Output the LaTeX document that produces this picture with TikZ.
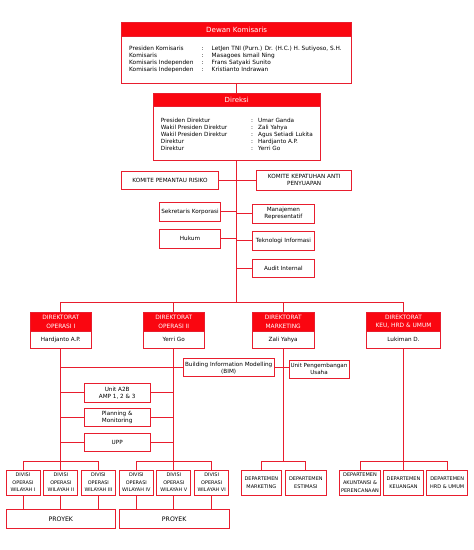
\documentclass[tikz,border=0pt]{standalone}
\usepackage{fontspec}
\setmainfont{DejaVu Sans}
\definecolor{rd}{RGB}{232,30,46}
\definecolor{hd}{RGB}{250,6,16}
\newcommand{\fsz}[2]{\fontsize{#1}{#2}\selectfont}
\begin{document}
\begin{tikzpicture}[x=1pt,y=-1pt,
  box/.style={draw=rd, line width=1pt, fill=white, inner sep=0pt, align=center, text=black, font=\fsz{5.7}{7}},
  hdr/.style={draw=rd, line width=1pt, fill=hd, inner sep=0pt, align=center, text=white},
  txt/.style={inner sep=0pt, anchor=north west, align=left, text=black},
  ln/.style={draw=rd, line width=0.9pt},
  divbox/.style={box, minimum width=34pt, minimum height=25pt, font=\fsz{4.9}{7.5}},
  depbox/.style={box, minimum height=25.7pt, font=\fsz{5}{7.7}},
  dirbox/.style={box, minimum height=36pt},
  dirhdr/.style={hdr, minimum height=19pt, font=\fsz{5.9}{8.8}},
  proyekbox/.style={box, minimum width=109.7pt, minimum height=19pt, font=\fsz{6.2}{7}}]
\useasboundingbox (0,0) rectangle (474,550);
\fill[white] (0,0) rectangle (474,550);

% Dewan Komisaris
\node[box, minimum width=230pt, minimum height=61pt] (dk) at (236.7,52.5) {};
\node[hdr, minimum width=230pt, minimum height=14.5pt, font=\fsz{7.1}{8}] (dkh) at (236.7,29.5) {Dewan Komisaris};
\node[txt, font=\fsz{5.8}{7.2}] (dkt) at (129,44.8) {\begin{tabular}{@{}p{72.5pt}@{}p{10pt}@{}l@{}}
Presiden Komisaris & : & LetJen TNI (Purn.) Dr. (H.C.) H. Sutiyoso, S.H.\\
Komisaris & : & Masagoes Ismail Ning\\
Komisaris Independen & : & Frans Satyaki Sunito\\
Komisaris Independen & : & Kristianto Indrawan
\end{tabular}};

% Direksi
\node[box, minimum width=166.7pt, minimum height=67pt] (dr) at (236.7,126.7) {};
\node[hdr, minimum width=166.7pt, minimum height=13.5pt, font=\fsz{7}{8}] (drh) at (236.7,100) {Direksi};
\node[txt, font=\fsz{5.7}{7.1}] (drt) at (160.7,117.4) {\begin{tabular}{@{}p{90.3pt}@{}p{7pt}@{}l@{}}
Presiden Direktur & : & Umar Ganda\\
Wakil Presiden Direktur & : & Zali Yahya\\
Wakil Presiden Direktur & : & Agus Setiadi Lukita\\
Direktur & : & Hardjanto A.P.\\
Direktur & : & Yerri Go
\end{tabular}};

% Committees and units
\node[box, minimum width=96.6pt, minimum height=18.3pt] (kpr) at (170,180.2) {KOMITE PEMANTAU RISIKO};
\node[box, minimum width=95pt, minimum height=20pt] (kka) at (304.2,180) {KOMITE KEPATUHAN ANTI\\PENYUAPAN};
\node[box, minimum width=61.4pt, minimum height=18.7pt] (sk) at (190,211.7) {Sekretaris Korporasi};
\node[box, minimum width=61.3pt, minimum height=19pt] (mr) at (283.4,213.5) {Manajemen\\Representatif};
\node[box, minimum width=61.4pt, minimum height=19pt] (hk) at (190,238.8) {Hukum};
\node[box, minimum width=61.3pt, minimum height=18.3pt] (ti) at (283.4,240.9) {Teknologi Informasi};
\node[box, minimum width=61.3pt, minimum height=18.3pt] (ai) at (283.4,268.2) {Audit Internal};

\coordinate (bus) at (236.7,302);
\draw[ln] (dk.south) -- (dr.north);
\draw[ln] (dr.south) -- (bus);
\foreach \n in {kpr,sk,hk} \draw[ln] (\n.east) -- (\n.east -| bus);
\foreach \n in {kka,mr,ti,ai} \draw[ln] (\n.west) -- (\n.west -| bus);

% Directorates
\node[dirbox, minimum width=61.7pt] (d1) at (60.85,330.2) {};
\node[dirhdr, minimum width=61.7pt] (d1h) at (60.85,321.7) {DIREKTORAT\\OPERASI I};
\node[inner sep=0pt, font=\fsz{5.7}{7}] (d1n) at (60.85,339.6) {Hardjanto A.P.};
\node[dirbox, minimum width=61pt] (d2) at (173.8,330.2) {};
\node[dirhdr, minimum width=61pt] (d2h) at (173.8,321.7) {DIREKTORAT\\OPERASI II};
\node[inner sep=0pt, font=\fsz{5.7}{7}] (d2n) at (173.8,339.6) {Yerri Go};
\node[dirbox, minimum width=61.7pt] (d3) at (283.2,330.2) {};
\node[dirhdr, minimum width=61.7pt] (d3h) at (283.2,321.7) {DIREKTORAT\\MARKETING};
\node[inner sep=0pt, font=\fsz{5.7}{7}] (d3n) at (283.2,339.6) {Zali Yahya};
\node[dirbox, minimum width=74pt] (d4) at (403.5,330.2) {};
\node[dirhdr, minimum width=74pt] (d4h) at (403.5,321.7) {DIREKTORAT\\KEU, HRD \& UMUM};
\node[inner sep=0pt, font=\fsz{5.7}{7}] (d4n) at (403.5,339.6) {Lukiman D.};

\draw[ln] (d1.north |- bus) -- (d4.north |- bus);
\foreach \n in {d1,d2,d3,d4} \draw[ln] (\n.north |- bus) -- (\n.north);

% Operations staff units
\node[box, minimum width=90.7pt, minimum height=18.2pt] (bim) at (228.7,367.8) {Building Information Modelling\\(BIM)};
\node[box, minimum width=60pt, minimum height=18.3pt, font=\fsz{5.6}{7}] (upu) at (319,369.4) {Unit Pengembangan\\Usaha};
\node[box, minimum width=65.7pt, minimum height=19pt] (a2b) at (117.2,392.8) {Unit A2B\\AMP 1, 2 \& 3};
\node[box, minimum width=65.7pt, minimum height=18.4pt] (pm) at (117.2,417.5) {Planning \&\\Monitoring};
\node[box, minimum width=65.7pt, minimum height=17.7pt] (upp) at (117.2,442.2) {UPP};

\coordinate (b1) at (60.85,461);
\coordinate (b2) at (173.8,461);
\coordinate (b3) at (283.2,461);
\coordinate (b4) at (403.5,461);
\foreach \d/\b in {d1/b1,d2/b2,d3/b3,d4/b4} \draw[ln] (\d.south) -- (\b);
\draw[ln] (bim.west -| d1.south) -- (bim.west);
\draw[ln] (bim.east) -- (bim.east -| upu.west);
\foreach \n in {a2b,pm,upp} {
  \draw[ln] (\n.west -| d1.south) -- (\n.west);
  \draw[ln] (\n.east) -- (\n.east -| d2.south);
}

% Divisions
\node[divbox] (v1) at (23,482.5) {DIVISI\\OPERASI\\WILAYAH I};
\node[divbox] (v2) at (60.85,482.5) {DIVISI\\OPERASI\\WILAYAH II};
\node[divbox] (v3) at (98.4,482.5) {DIVISI\\OPERASI\\WILAYAH III};
\node[divbox] (v4) at (136.3,482.5) {DIVISI\\OPERASI\\WILAYAH IV};
\node[divbox] (v5) at (173.8,482.5) {DIVISI\\OPERASI\\WILAYAH V};
\node[divbox] (v6) at (211.7,482.5) {DIVISI\\OPERASI\\WILAYAH VI};
\node[proyekbox] (p1) at (60.85,518.8) {PROYEK};
\node[proyekbox] (p2) at (174.15,518.8) {PROYEK};

\draw[ln] (v1.north |- b1) -- (v3.north |- b1);
\draw[ln] (v4.north |- b2) -- (v6.north |- b2);
\foreach \n in {v1,v2,v3} {
  \draw[ln] (\n.north |- b1) -- (\n.north);
  \draw[ln] (\n.south) -- (\n.south |- p1.north);
}
\foreach \n in {v4,v5,v6} {
  \draw[ln] (\n.north |- b2) -- (\n.north);
  \draw[ln] (\n.south) -- (\n.south |- p2.north);
}

% Departments
\node[depbox, minimum width=40.7pt] (e1) at (261.35,482.85) {DEPARTEMEN\\MARKETING};
\node[depbox, minimum width=41.7pt] (e2) at (305.85,482.85) {DEPARTEMEN\\ESTIMASI};
\node[depbox, minimum width=41.4pt] (e3) at (360,482.85) {DEPARTEMEN\\AKUNTANSI \&\\PERENCANAAN};
\node[depbox, minimum width=40pt] (e4) at (403.5,482.85) {DEPARTEMEN\\KEUANGAN};
\node[depbox, minimum width=41pt] (e5) at (447.2,482.85) {DEPARTEMEN\\HRD \& UMUM};

\draw[ln] (e1.north |- b3) -- (e2.north |- b3);
\draw[ln] (e3.north |- b4) -- (e5.north |- b4);
\foreach \n in {e1,e2} \draw[ln] (\n.north |- b3) -- (\n.north);
\foreach \n in {e3,e4,e5} \draw[ln] (\n.north |- b4) -- (\n.north);
\end{tikzpicture}
\end{document}
